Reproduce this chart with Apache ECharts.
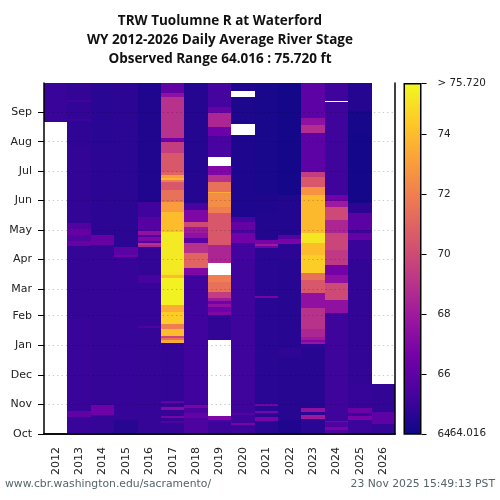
<!DOCTYPE html>
<html>
<head>
<meta charset="utf-8">
<style>html,body{margin:0;padding:0;background:#fff}#c{width:500px;height:500px}</style>
<script src="https://cdn.jsdelivr.net/npm/echarts@6/dist/echarts.min.js"></script>
</head>
<body>
<div id="c"></div>
<script>
// Each run: [water-year day at which the run ends, stage in ft]; null = no data.
const titleLines = ['TRW Tuolumne R at Waterford', 'WY 2012-2026 Daily Average River Stage', 'Observed Range 64.016 : 75.720 ft'];
const years = ['2012','2013','2014','2015','2016','2017','2018','2019','2020','2021','2022','2023','2024','2025','2026'];
const monthNames = ['Oct','Nov','Dec','Jan','Feb','Mar','Apr','May','Jun','Jul','Aug','Sep'];
const monthDays = [0,31,61,92,123,151,182,212,243,273,304,335];
const colorbarTicks = [64,66,68,70,72,74,75.72];
const observedMax = [75.72];
const observedMin = 64.016;
const plasma = ['#0d0887','#46039f','#7201a8','#9c179e','#bd3786','#d8576b','#ed7953','#fb9f3a','#fdca26','#f0f921'];

const wy2012 = [[324,null],[365,65.0]];
const wy2013 = [[18,65.0],[24,66.1],[120,65.0],[196,64.9],[201,66.3],[207,65.6],[213,66.3],[219,65.6],[300,64.85],[325,64.8],[328,65.1],[345,64.85],[347,65.2],[365,64.85]];
const wy2014 = [[20,64.9],[30,66.5],[197,64.9],[207,66.3],[300,64.75],[365,64.65]];
const wy2015 = [[15,64.6],[184,64.95],[186,66.5],[194,65.9],[330,64.7],[365,64.75]];
const wy2016 = [[110,64.9],[112,65.5],[157,64.95],[165,65.3],[194,64.85],[197,68.5],[199,69],[201,65.7],[205,67],[207,65.7],[211,67.5],[226,65.8],[241,65.2],[242,64.2],[365,64.45]];
const wy2017 = [[11,64.9],[13,65.6],[17,64.9],[19,66.8],[25,64.9],[28,67.2],[32,64.9],[34,66.2],[95,64.85],[98,73.5],[100,71.5],[102,70],[109,74],[114,72],[127,74.5],[134,73.5],[162,75.5],[165,74],[168,75.2],[210,75.3],[231,74],[241,73],[254,71.5],[262,70.5],[264,72],[266,73.8],[269,73],[272,71],[292,70.5],[304,69.5],[308,66.6],[350,69],[355,67.5],[365,66.1]];
const wy2018 = [[17,65.5],[22,66.2],[27,65.5],[30,66.8],[165,65.2],[173,67],[188,71],[199,69],[204,65.9],[209,67.5],[215,68],[220,70],[233,67],[240,65.4],[365,64.55]];
const wy2019 = [[12,65.1],[15,65.4],[19,67],[98,null],[124,64.85],[127,67],[132,66.5],[135,67.5],[138,66.5],[141,68],[148,69.5],[158,71.5],[165,72],[178,null],[189,68.5],[197,68.5],[230,70.5],[236,72],[251,72.5],[252,73.5],[262,71.5],[269,69],[279,67],[288,null],[310,65.4],[319,66.4],[334,68.5],[340,66.2],[365,65.3]];
const wy2020 = [[5,65.15],[9,65.0],[11,66.8],[20,65.15],[22,65.8],[181,65.15],[199,65.25],[209,66.6],[212,65.4],[220,66.2],[226,65.3],[311,64.4],[322,null],[350,64.35],[357,null],[365,64.4]];
const wy2021 = [[13,64.65],[14,64.9],[18,66.8],[22,64.65],[24,66.8],[29,64.65],[31,66.8],[141,64.65],[144,66.8],[193,64.65],[196,66.6],[198,68],[202,66.8],[230,64.5],[250,64.45],[365,64.3]];
const wy2022 = [[15,64.45],[80,64.6],[89,64.8],[181,64.6],[198,64.75],[203,66.8],[207,65.8],[249,64.5],[365,64.2]];
const wy2023 = [[16,64.65],[20,68],[23,64.65],[27,67.5],[90,64.6],[94,64.85],[96,67.8],[98,67],[101,68],[109,68.5],[131,69],[147,67.5],[160,70.5],[167,71.5],[186,74.5],[199,74],[209,75.2],[249,73.9],[257,72.7],[267,70.5],[272,69.5],[313,66.0],[321,68.8],[329,67.5],[365,66.0]];
const wy2024 = [[4,65.6],[7,66.8],[12,65.6],[14,66.8],[126,65.15],[139,67.5],[157,70],[165,67.5],[176,66.7],[191,69.3],[209,69.8],[223,68.5],[236,70],[242,68],[249,66.5],[345,65.15],[346,null],[365,65.15]];
const wy2025 = [[15,65.1],[19,66.8],[22,65.1],[27,66.4],[53,64.95],[181,64.85],[202,65.0],[209,66.2],[212,65.0],[230,65.9],[240,64.75],[313,64.2],[336,64.25],[365,64.55]];
const wy2026 = [[10,64.9],[23,66.0],[52,64.85]];
const allYears = [wy2012,wy2013,wy2014,wy2015,wy2016,wy2017,wy2018,wy2019,wy2020,wy2021,wy2022,wy2023,wy2024,wy2025,wy2026];

const table = [];
allYears.forEach(function (runs, yi) {
  let start = 0;
  runs.forEach(function (r) {
    if (r[1] !== null) table.push([yi, start, r[0], r[1]]);
    start = r[0];
  });
});

const TICK = '#000', TXT = '#222', LBL = 'DejaVu Sans';
const chart = echarts.init(document.getElementById('c'), null, {renderer: 'canvas'});
chart.setOption({
  animation: false,
  backgroundColor: '#fff',
  title: {
    text: titleLines.join('\n'), left: 215, top: 7, textAlign: 'center',
    textStyle: {fontFamily: 'Open Sans', fontSize: 13.5, fontWeight: 'bold', color: '#111', lineHeight: 19}
  },
  graphic: [
    {type: 'text', left: 5, top: 479, style: {text: 'www.cbr.washington.edu/sacramento/', font: '10.8px "DejaVu Sans"', fill: '#56646b'}},
    {type: 'text', right: 5, top: 479, style: {text: '23 Nov 2025 15:49:13 PST', font: '10.8px "DejaVu Sans"', fill: '#56646b'}},
    {type: 'text', right: 14, top: 428, style: {text: observedMin.toFixed(3), font: '10.4px "DejaVu Sans"', fill: TXT}}
  ],
  grid: [
    {left: 44, top: 83, width: 351, height: 351},
    {left: 403.5, top: 83, width: 18, height: 351}
  ],
  xAxis: [
    {type: 'category', gridIndex: 0, data: years, position: 'bottom', z: 5,
     axisLine: {lineStyle: {color: TICK, width: 1.5}},
     axisTick: {alignWithLabel: true, length: 4, lineStyle: {color: TICK, width: 1}},
     axisLabel: {rotate: 90, interval: 0, margin: 13, fontFamily: LBL, fontSize: 11, color: TXT}},
    {type: 'category', gridIndex: 0, data: years, position: 'top', z: 5,
     axisLine: {lineStyle: {color: TICK, width: 1.5}}, axisTick: {show: false}, axisLabel: {show: false}},
    {type: 'category', gridIndex: 1, data: ['stage'], show: false}
  ],
  yAxis: [
    {type: 'value', gridIndex: 0, min: 0, max: 365, position: 'left', z: 5,
     axisLine: {show: true, onZero: false, lineStyle: {color: TICK, width: 1.5}},
     axisTick: {show: true, length: 6, customValues: monthDays, lineStyle: {color: TICK, width: 1}},
     axisLabel: {customValues: monthDays, margin: 12, fontFamily: LBL, fontSize: 11, color: TXT,
       formatter: function (v) { return monthNames[monthDays.indexOf(v)]; }},
     splitLine: {show: false}},
    {type: 'value', gridIndex: 0, min: 0, max: 365, position: 'right', z: 5,
     axisLine: {show: true, onZero: false, lineStyle: {color: TICK, width: 1.5}},
     axisTick: {show: false}, axisLabel: {show: false}, splitLine: {show: false}},
    {type: 'value', gridIndex: 1, min: 64, max: 75.72, position: 'right', z: 5,
     axisLine: {show: false},
     axisTick: {show: true, length: 5, customValues: colorbarTicks, lineStyle: {color: TICK, width: 1}},
     axisLabel: {customValues: colorbarTicks, margin: 16, fontFamily: LBL, fontSize: 10.4, color: TXT,
       formatter: function (v) { return v === observedMax[0] ? '> 75.720' : String(v); }},
     splitLine: {show: false}}
  ],
  visualMap: {show: false, seriesIndex: 0, dimension: 3, min: observedMin, max: observedMax[0], inRange: {color: plasma}},
  series: [
    {
      type: 'custom', xAxisIndex: 0, yAxisIndex: 0, data: table,
      encode: {x: 0, y: [1, 2]},
      renderItem: function (params, api) {
        const bottom = api.coord([api.value(0), api.value(1)]);
        const top = api.coord([api.value(0), api.value(2)]);
        const w = api.size([1, 0])[0];
        const x0 = Math.round(bottom[0] - w / 2), x1 = Math.round(bottom[0] + w / 2);
        const y0 = Math.round(top[1]), y1 = Math.round(bottom[1]);
        return {type: 'rect', shape: {x: x0, y: y0, width: x1 - x0, height: y1 - y0},
                style: {fill: api.visual('color')}};
      },
      markLine: {
        silent: true, symbol: 'none', label: {show: false}, animation: false,
        lineStyle: {color: 'rgba(0,0,0,0.22)', type: [1.3, 3.1], width: 1.2},
        data: monthDays.slice(1).map(function (d) { return {yAxis: d}; })
      }
    },
    {
      type: 'bar', xAxisIndex: 2, yAxisIndex: 2, data: observedMax, barWidth: '100%', silent: true,
      itemStyle: {
        borderColor: '#000', borderWidth: 1.5,
        color: new echarts.graphic.LinearGradient(0, 1, 0, 0, plasma.map(function (c, i) {
          return {offset: i / (plasma.length - 1), color: c};
        }))
      }
    }
  ]
});
</script>
</body>
</html>
